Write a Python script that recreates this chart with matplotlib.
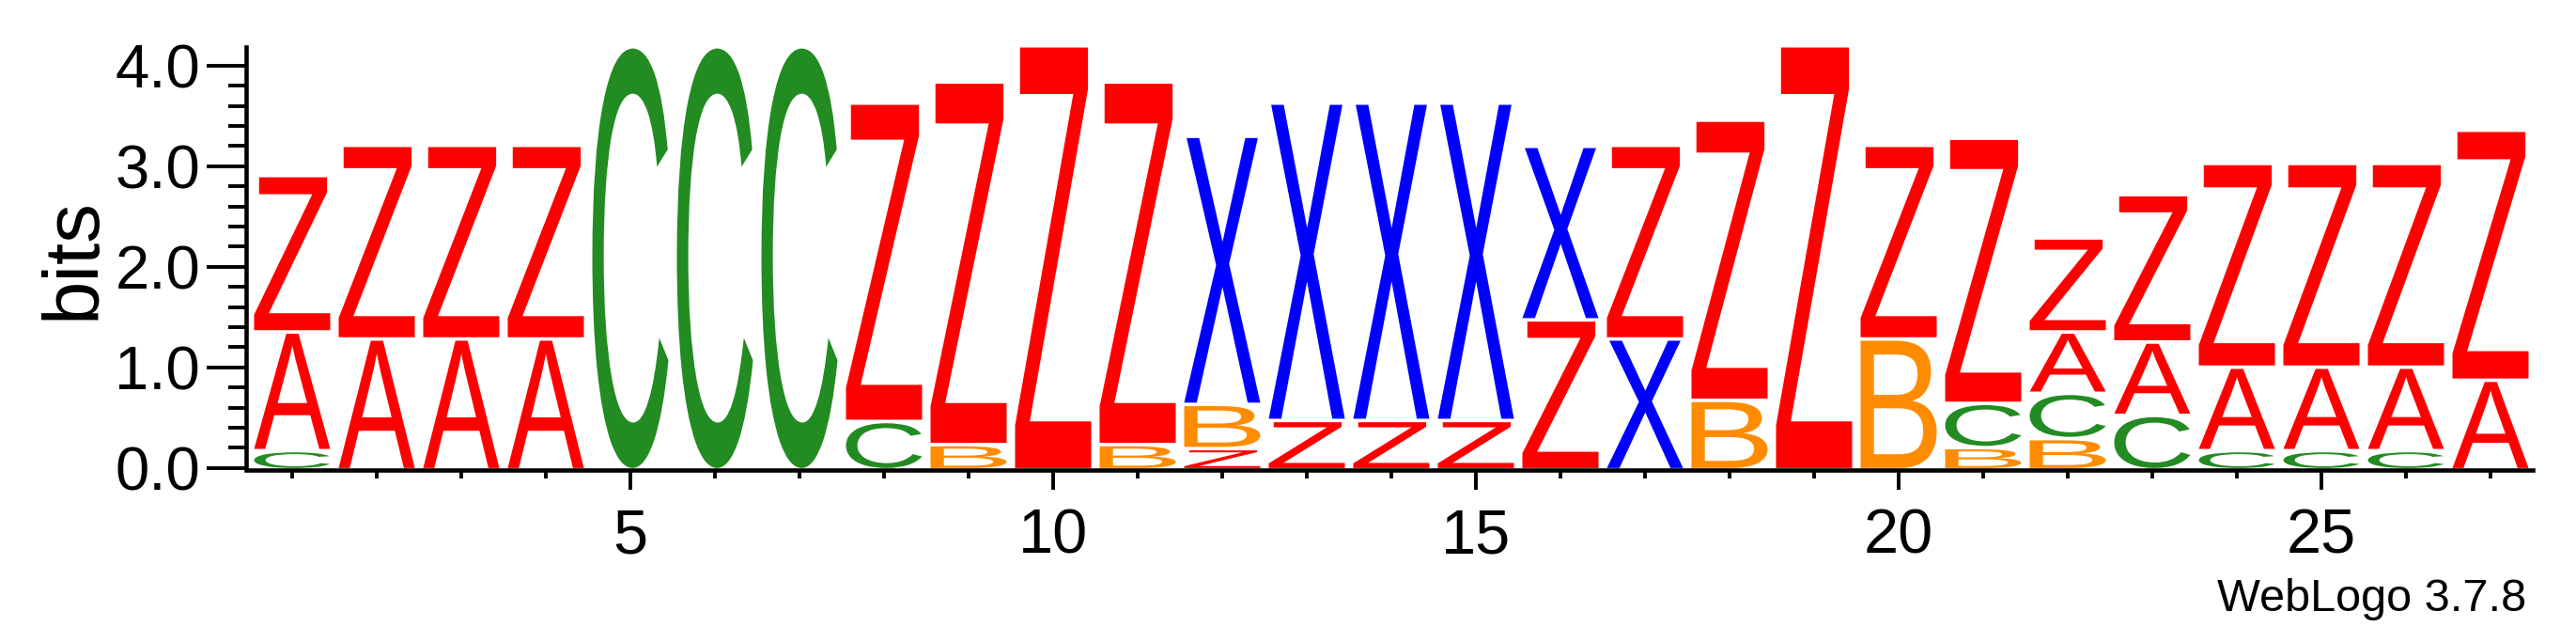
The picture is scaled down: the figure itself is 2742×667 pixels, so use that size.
import matplotlib
matplotlib.use("Agg")
import matplotlib.pyplot as plt
from matplotlib.textpath import TextPath
from matplotlib.patches import PathPatch
from matplotlib.font_manager import FontProperties
from matplotlib.transforms import Affine2D
from matplotlib.ticker import FixedLocator, MultipleLocator, FormatStrFormatter

# ---- data: information content (bits) per letter at each position ----
positions = list(range(1, 28))
A = [1.18, 1.30, 1.30, 1.30, 0, 0, 0, 0, 0, 0, 0, 0, 0, 0, 0, 0, 0, 0, 0, 0,
     0, 0.61, 0.73, 0.83, 0.83, 0.83, 0.89]
B = [0, 0, 0, 0, 0, 0, 0, 0, 0.25, 0, 0.25, 0.44, 0, 0, 0, 0, 0, 0.69, 0, 1.30,
     0.22, 0.31, 0, 0, 0, 0, 0]
C = [0.19, 0, 0, 0, 4.17, 4.17, 4.17, 0.48, 0, 0, 0, 0, 0, 0, 0, 0, 0, 0, 0, 0,
     0.44, 0.45, 0.54, 0.19, 0.19, 0.19, 0]
X = [0, 0, 0, 0, 0, 0, 0, 0, 0, 0, 0, 2.63, 3.12, 3.12, 3.12, 1.69, 1.30, 0, 0, 0,
     0, 0, 0, 0, 0, 0, 0]
Z = [1.52, 1.89, 1.89, 1.89, 0, 0, 0, 3.13, 3.57, 4.18, 3.57, 0.21, 0.49, 0.49, 0.49,
     1.49, 1.89, 2.75, 4.18, 1.89, 2.60, 0.90, 1.43, 1.99, 1.99, 1.99, 2.45]
heights = {"A": A, "B": B, "C": C, "X": X, "Z": Z}
colors = {"A": "#FF0000", "B": "#FF8C00", "C": "#228B22", "X": "#0000FF", "Z": "#FF0000"}
major_xticks = [5, 10, 15, 20, 25]
yticks = [0.0, 1.0, 2.0, 3.0, 4.0]

W, H, DPI = 2742, 667, 100
fig = plt.figure(figsize=(W / DPI, H / DPI), dpi=DPI)
ax = fig.add_axes([266 / W, 167 / H, (2696 - 266) / W, 450 / H])

fp = FontProperties(family="Liberation Sans")
letter_w = 0.9
pad = 0.035
for i, pos in enumerate(positions):
    items = sorted([(heights[L][i], L) for L in heights if heights[L][i] > 0])
    y0 = 0.0
    for k, (h, L) in enumerate(items):
        gh = h if k == len(items) - 1 else h - pad
        tp = TextPath((0, 0), L, size=1, prop=fp)
        ext = tp.get_extents()
        tr = (Affine2D().translate(-ext.x0, -ext.y0)
              .scale(letter_w / ext.width, gh / ext.height)
              .translate(pos - letter_w / 2, y0))
        ax.add_patch(PathPatch(tr.transform_path(tp), facecolor=colors[L],
                               edgecolor="none", lw=0))
        y0 += h

ax.set_xlim(0.5, 27.5)
ax.set_ylim(-0.02, 4.185)
for s in ("top", "right"):
    ax.spines[s].set_visible(False)
for s in ("left", "bottom"):
    ax.spines[s].set_linewidth(3.3)
ax.spines["left"].set_position(("outward", 3))

ax.xaxis.set_major_locator(FixedLocator(major_xticks))
ax.xaxis.set_minor_locator(FixedLocator(positions))
ax.yaxis.set_major_locator(FixedLocator(yticks))
ax.yaxis.set_minor_locator(MultipleLocator(0.2))
ax.yaxis.set_major_formatter(FormatStrFormatter("%.1f"))

ax.tick_params(axis="x", which="major", length=15, width=2.8, direction="out",
               labelsize=48, pad=14)
ax.tick_params(axis="x", which="minor", length=6.5, width=2.8, direction="out")
ax.tick_params(axis="y", which="major", length=30, width=2.8, direction="out",
               labelsize=47, pad=5)
ax.tick_params(axis="y", which="minor", length=14, width=2.8, direction="out")
for lab in ax.get_xticklabels() + ax.get_yticklabels():
    lab.set_fontfamily("Liberation Sans")

fig.text(79 / W, 1 - 275 / H, "bits", rotation=90, ha="center", va="center",
         fontsize=60, family="Liberation Sans")
fig.text(2689 / W, 17 / H, "WebLogo 3.7.8", ha="right", va="baseline",
         fontsize=35, family="Liberation Sans")

fig.savefig("out.png", dpi=DPI)
